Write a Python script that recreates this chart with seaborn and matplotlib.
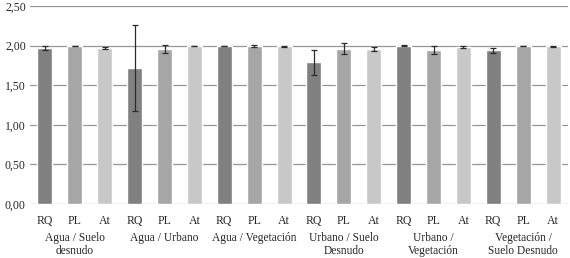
import matplotlib
matplotlib.use("Agg")
import matplotlib.pyplot as plt
import seaborn as sns
import pandas as pd
import numpy as np
from matplotlib.transforms import blended_transform_factory

groups = ["Agua / Suelo\ndesnudo", "Agua / Urbano", "Agua / Vegetación",
          "Urbano / Suelo\nDesnudo", "Urbano /\nVegetación", "Vegetación /\nSuelo Desnudo"]
metrics = ["RQ", "PL", "At"]
values = [1.97, 2.00, 1.97,
          1.72, 1.96, 2.00,
          2.00, 1.995, 1.99,
          1.79, 1.96, 1.96,
          2.00, 1.95, 1.98,
          1.94, 2.00, 1.99]
errors = [0.02, 0.0, 0.015,
          0.54, 0.05, 0.0,
          0.0, 0.01, 0.01,
          0.16, 0.07, 0.025,
          0.005, 0.05, 0.015,
          0.03, 0.0, 0.01]
yticks = [0.0, 0.5, 1.0, 1.5, 2.0, 2.5]

sns.set_theme(style="white")
plt.rcParams['font.family'] = ['Liberation Serif', 'DejaVu Serif']

n = len(groups) * len(metrics)
df = pd.DataFrame({
    "pos": [str(i) for i in range(n)],
    "metric": [metrics[i % 3] for i in range(n)],
    "value": values,
    "err": errors,
})

palette = {"RQ": "#808080", "PL": "#a6a6a6", "At": "#c8c8c8"}

fig = plt.figure(figsize=(5.70, 2.58), dpi=100)
ax = fig.add_axes([30 / 570, 1 - 204 / 258, 538 / 570, 198 / 258])

for y in yticks:
    ax.axhline(y, color="#969696", lw=0.9, zorder=0)

sns.barplot(data=df, x="pos", y="value", hue="metric", palette=palette,
            dodge=False, width=0.5, errorbar=None, legend=False, ax=ax,
            order=[str(i) for i in range(n)], zorder=2, saturation=1)

ax.errorbar(np.arange(n), df["value"], yerr=df["err"], fmt="none",
            ecolor="#2b2b2b", elinewidth=0.9, capsize=2.3, capthick=0.9, zorder=3)

ax.set_xlim(-0.5, n - 0.5)
ax.set_ylim(0, 2.5)
ax.set_yticks(yticks)
ax.set_yticklabels([f"{v:.2f}".replace(".", ",") for v in yticks], fontsize=8.5)
ax.set_xticks(np.arange(n))
ax.set_xticklabels([metrics[i % 3] for i in range(n)], fontsize=8.5)
ax.tick_params(axis="x", length=0, pad=8)
ax.tick_params(axis="y", length=0, pad=3)
ax.set_xlabel("")
ax.set_ylabel("")
for s in ax.spines.values():
    s.set_visible(False)

trans = blended_transform_factory(ax.transData, fig.transFigure)
for gi, g in enumerate(groups):
    ax.text(gi * 3 + 1, 1 - 232 / 258, g, transform=trans, ha="center", va="top",
            fontsize=8.3, linespacing=1.12)

fig.savefig("out.png", dpi=100, facecolor="white")
